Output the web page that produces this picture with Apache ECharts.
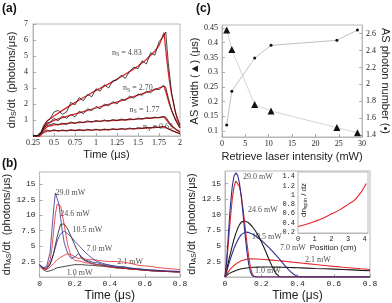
<!DOCTYPE html>
<html><head><meta charset="utf-8">
<script src="https://cdn.jsdelivr.net/npm/echarts@6/dist/echarts.min.js"></script>
<style>html,body{margin:0;padding:0;background:#fff}#c{width:392px;height:303px}</style>
</head><body><div id="c"></div>
<script>
// ---------- Panel (a): Stokes photon flux ----------
var tFit = [0.25,0.33,0.37,0.42,0.5,0.6,0.7,0.8,0.9,1.0,1.1,1.2,1.3,1.4,1.5,1.6,1.7,1.75,1.81,1.84,1.87,1.9,1.94,1.97,2.0];
var fit483 = [0,0,0.45,0.95,1.25,1.6,1.93,2.25,2.55,2.85,3.12,3.4,3.7,4.02,4.37,4.78,5.3,5.65,6.45,4.9,3.6,2.6,1.6,1.0,0.6];
var fit270 = [0,0,0.4,0.75,0.98,1.15,1.3,1.45,1.6,1.75,1.9,2.05,2.2,2.38,2.55,2.72,2.9,3.0,3.12,2.6,2.05,1.6,1.1,0.8,0.5];
var fit177 = [0,0,0.35,0.58,0.7,0.75,0.8,0.84,0.88,0.91,0.94,0.97,1.0,1.03,1.06,1.1,1.14,1.16,1.2,1.0,0.8,0.62,0.45,0.35,0.25];
var fit063 = [0,0,0.2,0.3,0.33,0.34,0.35,0.36,0.37,0.38,0.39,0.41,0.43,0.45,0.47,0.5,0.53,0.55,0.57,0.5,0.42,0.35,0.27,0.2,0.15];
var tMeas = [0.25,0.30,0.35,0.38,0.41,0.45,0.50,0.55,0.60,0.65,0.70,0.75,0.80,0.85,0.90,0.95,1.00,1.05,1.10,1.15,1.20,1.25,1.30,1.35,1.40,1.45,1.50,1.55,1.60,1.65,1.70,1.75,1.80,1.83,1.86,1.90,1.95,2.00];
var meas483 = [0,0.02,0.3,0.7,0.9,1.05,1.5,1.6,1.35,1.5,2.1,1.95,2.4,2.2,2.6,2.45,2.95,2.8,3.2,3.0,3.45,3.5,3.8,3.6,4.05,4.3,4.2,4.7,4.5,5.2,5.05,5.9,6.2,6.5,4.6,2.7,1.4,0.7];
var meas270 = [0,0.02,0.25,0.6,0.8,0.85,1.1,0.95,1.25,1.1,1.35,1.2,1.55,1.4,1.7,1.58,1.85,1.7,2.0,1.88,2.15,2.0,2.3,2.22,2.5,2.35,2.62,2.55,2.8,2.7,2.95,2.9,3.15,3.05,2.4,1.6,0.95,0.5];
var meas177 = [0,0,0.2,0.5,0.65,0.7,0.78,0.68,0.8,0.72,0.88,0.78,0.9,0.83,0.95,0.86,0.97,0.9,1.0,0.92,1.03,0.95,1.06,0.98,1.08,1.02,1.12,1.05,1.15,1.1,1.18,1.13,1.22,1.18,0.95,0.65,0.42,0.25];
var meas063 = [0,0,0.12,0.3,0.38,0.3,0.4,0.3,0.38,0.31,0.4,0.32,0.41,0.33,0.42,0.35,0.43,0.36,0.44,0.37,0.46,0.39,0.47,0.41,0.5,0.43,0.52,0.46,0.55,0.49,0.58,0.52,0.6,0.55,0.45,0.35,0.24,0.15];
var labelsA = ['n_S = 4.83','n_S = 2.70','n_S = 1.77','n_S = 0.63'];
var labelAX = [1.19,1.32,1.40,1.56];
var labelAY = [5.2,3.0,1.63,0.56];

// ---------- Panel (c): AS width and photon number ----------
var power = [1.0,2.1,7.0,10.5,24.6,29.0];
var asWidth = [0.443,0.377,0.19,0.168,0.112,0.094];
var asNumber = [1.52,1.92,2.31,2.46,2.52,2.64];

// ---------- Panel (b): measured anti-Stokes flux ----------
var tB = [0,0.02,0.04,0.06,0.07,0.08,0.09,0.10,0.11,0.12,0.13,0.14,0.16,0.18,0.20,0.22,0.24,0.26,0.28,0.30,0.33,0.36,0.40,0.44,0.48,0.52,0.56,0.60,0.64,0.68,0.72,0.76,0.80];
var b290 = [2.0,1.5,1.7,4.0,7.5,11.0,13.6,13.3,11.8,9.5,7.3,5.6,3.8,3.0,3.2,3.8,3.3,2.7,2.6,2.4,2.3,2.0,1.9,1.6,1.7,1.4,1.35,1.2,1.15,1.05,1.0,0.95,0.9];
var b246 = [2.0,1.3,1.4,2.8,4.5,7.5,10.2,11.8,12.0,11.5,10.0,8.5,5.2,3.3,2.7,2.6,2.5,2.3,2.25,2.1,2.0,1.8,1.65,1.45,1.4,1.25,1.2,1.1,1.0,0.95,0.9,0.85,0.8];
var b105 = [2.0,1.4,1.3,2.0,2.8,3.8,5.2,6.5,7.6,8.5,8.8,8.6,7.8,6.5,5.2,4.0,3.0,2.6,2.4,2.2,2.0,1.9,1.7,1.5,1.45,1.3,1.2,1.1,1.0,0.95,0.9,0.85,0.8];
var b070 = [2.0,1.5,1.4,2.2,3.0,3.8,4.8,5.8,6.5,7.0,7.3,7.4,7.0,6.5,5.8,5.2,4.6,4.0,3.5,3.0,2.5,2.2,1.9,1.75,1.5,1.45,1.3,1.2,1.1,1.05,0.95,0.9,0.9];
var b021 = [2.0,1.3,1.2,1.6,1.9,2.2,2.5,2.8,3.0,3.2,3.4,3.5,3.8,3.6,3.3,3.0,3.1,2.9,2.8,2.8,2.7,2.6,2.5,2.5,2.4,2.2,1.9,1.8,1.7,1.5,1.4,1.3,1.2];
var b010 = [1.8,1.2,0.9,1.0,1.1,1.2,1.35,1.5,1.55,1.6,1.65,1.7,1.8,1.9,2.0,2.0,2.0,1.95,1.9,1.9,1.8,1.75,1.6,1.5,1.4,1.3,1.2,1.1,1.0,0.95,0.9,0.85,0.8];
var labelsB = ['29.0 mW','24.6 mW','10.5 mW','7.0 mW','2.1 mW','1.0 mW'];
var labelBX = [0.091,0.117,0.187,0.267,0.443,0.155];
var labelBY = [13.6,10.2,7.6,4.5,2.4,0.65];

// ---------- Panel (d): theory ----------
var tD = [0,0.01,0.02,0.03,0.04,0.05,0.06,0.07,0.08,0.09,0.10,0.11,0.12,0.13,0.14,0.15,0.16,0.17,0.18,0.20,0.22,0.24,0.26,0.28,0.30,0.32,0.34,0.36,0.38,0.40,0.42,0.45,0.50,0.55,0.60,0.65,0.70,0.75,0.80];
var d290 = [0,3,7.5,11.5,14.5,16.2,16.7,16.3,15.0,12.8,10.0,7.0,4.3,2.2,0.8,0.2,0,0,0,0,0,0,0,0,0,0,0,0,0,0,0,0,0,0,0,0,0,0,0];
var d246 = [0,2.5,6.0,9.5,12.5,14.5,15.4,15.3,14.5,13.0,10.8,8.3,5.7,3.4,1.6,0.5,0.1,0,0,0,0,0,0,0,0,0,0,0,0,0,0,0,0,0,0,0,0,0,0];
var d105 = [0,1.3,2.6,3.8,5.0,6.1,7.0,7.8,8.4,8.8,9.0,9.0,8.9,8.7,8.4,8.1,7.7,7.3,6.8,5.7,4.4,3.0,1.7,0.6,0.05,0,0,0,0,0,0,0,0,0,0,0,0,0,0];
var d070 = [0,1.0,2.0,2.9,3.8,4.6,5.3,5.9,6.4,6.8,7.05,7.2,7.2,7.15,7.05,6.9,6.75,6.55,6.35,5.9,5.35,4.8,4.2,3.55,2.9,2.2,1.5,0.9,0.4,0.1,0,0,0,0,0,0,0,0,0];
var d021 = [0,0.45,0.9,1.3,1.6,1.85,2.1,2.3,2.45,2.6,2.7,2.78,2.84,2.88,2.9,2.9,2.9,2.89,2.88,2.85,2.8,2.75,2.7,2.65,2.6,2.54,2.48,2.42,2.36,2.3,2.24,2.15,2.0,1.85,1.7,1.57,1.45,1.32,1.2];
var d010 = [0,0.25,0.5,0.68,0.82,0.95,1.05,1.15,1.23,1.3,1.36,1.41,1.45,1.49,1.52,1.54,1.56,1.58,1.59,1.6,1.6,1.6,1.6,1.59,1.58,1.56,1.54,1.52,1.5,1.48,1.46,1.43,1.37,1.32,1.26,1.2,1.14,1.07,1.0];
var labelDX = [0.099,0.127,0.149,0.303,0.441,0.166];
var labelDY = [16.0,10.7,6.4,4.65,2.7,0.96];

// ---------- Inset: spin-wave density ----------
var posCm = [0,0.5,1.0,1.5,2.0,2.5,3.0,3.5,4.1];
var dnSpin = [0.32,0.37,0.43,0.50,0.59,0.68,0.80,0.93,1.25];

// ---------- tick labels ----------
var ticksAX = [0.25,0.5,0.75,1,1.25,1.5,1.75,2];
var ticksAY = [1,2,3,4,5,6,7];
var ticksCX = [0,5,10,15,20,25,30];
var ticksCL = [0.1,0.15,0.2,0.25,0.3,0.35,0.4,0.45];
var ticksCR = [1.4,1.6,1.8,2,2.2,2.4,2.6];
var ticksBX = [0,0.2,0.4,0.6,0.8];
var ticksBY = [2.5,5,7.5,10,12.5,15];
var ticksIX = [0,1,2,3,4];
var ticksIY = [0.2,0.4,0.6,0.8,1,1.2,1.4];

var SERIF = 'Liberation Serif', SANS = 'Liberation Sans, DejaVu Sans', MONO = 'Liberation Mono';
var RED = '#e3262c', BLUE = '#2e2f8f', BLK = '#1a1a1a', AXC = '#b8b8b8';

function zip(a,b){ return a.map(function(v,i){ return [v,b[i]]; }); }
function axis(o){
  var ax = {
    type:'value', gridIndex:o.g, min:o.min, max:o.max, position:o.pos,
    axisLine:{show:true, onZero:false, lineStyle:{color:AXC, width:1}},
    axisTick:{show:true, inside:true, length:3, customValues:o.ticks, lineStyle:{color:'#999', width:0.8}},
    splitLine:{show:false},
    axisLabel:{customValues:o.ticks, fontFamily:o.font, fontSize:o.fs||8, color:'#222', margin:o.margin||3, hideOverlap:false},
    name:o.name||'', nameLocation:'middle', nameGap:o.gap||10, nameRotate:o.rot,
    nameTextStyle:{fontFamily:SANS, fontSize:o.nfs||11, color:'#222', rich:o.rich}
  };
  return ax;
}
var richSub = {
  a:{fontFamily:SANS, fontSize:11, color:'#222'},
  s:{fontFamily:SANS, fontSize:7, color:'#222', padding:[5,0,0,0]}
};
var richSubSmall = {
  a:{fontFamily:SANS, fontSize:9, color:'#222'},
  s:{fontFamily:SANS, fontSize:6, color:'#222', padding:[4,0,0,0]}
};
function line(xi, yi, data, color, w){
  return {type:'line', xAxisIndex:xi, yAxisIndex:yi, data:data, symbol:'none', silent:true,
    lineStyle:{color:color, width:w}, animation:false};
}
function annot(xi, yi, xs, ys, texts, rich){
  return {type:'scatter', xAxisIndex:xi, yAxisIndex:yi, symbolSize:0, silent:true, animation:false,
    data: xs.map(function(x,i){ return {value:[x,ys[i]], name:texts[i]}; }),
    label:{show:true, position:'right', distance:0, formatter: rich ? function(p){
        var parts = p.name.split('_S'); return '{n|'+parts[0]+'}{s|S}{n|'+parts[1]+'}'; } : '{b}',
      fontFamily:SERIF, fontSize:8, color:'#222',
      rich: rich ? {n:{fontFamily:SERIF,fontSize:8,color:'#222'}, s:{fontFamily:SERIF,fontSize:6,color:'#222',padding:[4,0,0,0]}} : undefined}
  };
}

var chart = echarts.init(document.getElementById('c'), null, {renderer:'canvas'});
var option = {
  backgroundColor:'#fff',
  animation:false,
  grid:[
    {left:33, top:24, width:147, height:112, show:true, borderColor:AXC, borderWidth:1},
    {left:222, top:25, width:143, height:112, show:true, borderColor:AXC, borderWidth:1},
    {left:30, top:172, width:150, height:105, show:true, borderColor:AXC, borderWidth:1},
    {left:225, top:171, width:145, height:106, show:true, borderColor:AXC, borderWidth:1},
    {left:298, top:172, width:70, height:61, show:true, borderColor:AXC, borderWidth:1, backgroundColor:'#fff', z:5}
  ],
  xAxis:[
    axis({g:0, min:0.25, max:2, ticks:ticksAX, font:SERIF, name:'Time (μs)', gap:13, pos:'bottom'}),
    axis({g:1, min:0, max:30, ticks:ticksCX, font:SERIF, name:'Retrieve laser intensity (mW)', gap:14, pos:'bottom'}),
    axis({g:2, min:0, max:0.8, ticks:ticksBX, font:MONO, name:'Time (μs)', gap:13, nfs:12, pos:'bottom'}),
    axis({g:3, min:0, max:0.8, ticks:ticksBX, font:MONO, name:'Time (μs)', gap:13, nfs:12, pos:'bottom'}),
    axis({g:4, min:0, max:4.2, ticks:ticksIX, font:MONO, fs:7, name:'Position (cm)', gap:9, nfs:8, pos:'bottom'})
  ],
  yAxis:[
    axis({g:0, min:0, max:7, ticks:ticksAY, font:SERIF, margin:5, name:'{a|dn}{s|S}{a|/dt  (photons/μs)}', rich:richSub, gap:15, pos:'left'}),
    axis({g:1, min:0.08, max:0.46, ticks:ticksCL, font:SERIF, margin:4, name:'AS width (▲) (μs)', gap:21, pos:'left'}),
    axis({g:1, min:1.38, max:2.7, ticks:ticksCR, font:SERIF, margin:4, name:'AS photon number (•)', gap:16, rot:-90, pos:'right'}),
    axis({g:2, min:0, max:17, ticks:ticksBY, font:MONO, margin:4, name:'{a|dn}{s|AS}{a|/dt  (photons/μs)}', rich:richSub, gap:22, pos:'left'}),
    axis({g:3, min:0, max:17, ticks:ticksBY, font:MONO, margin:4, name:'{a|dn}{s|AS}{a|/dt  (photons/μs)}', rich:richSub, gap:22, pos:'left'}),
    axis({g:4, min:0.18, max:1.5, ticks:ticksIY, font:MONO, fs:7, margin:3, pos:'left'})
  ],
  series:[
    line(0,0,zip(tFit,fit483),RED,1.3), line(0,0,zip(tFit,fit270),RED,1.3),
    line(0,0,zip(tFit,fit177),RED,1.3), line(0,0,zip(tFit,fit063),RED,1.3),
    line(0,0,zip(tMeas,meas483),BLK,0.8), line(0,0,zip(tMeas,meas270),BLK,0.8),
    line(0,0,zip(tMeas,meas177),BLK,0.8), line(0,0,zip(tMeas,meas063),BLK,0.8),
    annot(0,0,labelAX,labelAY,labelsA,true),
    {type:'line', xAxisIndex:1, yAxisIndex:1, data:zip(power,asWidth), symbol:'triangle', symbolSize:7,
      lineStyle:{color:'#c8c8c8', width:0.8}, itemStyle:{color:'#111'}, animation:false},
    {type:'line', xAxisIndex:1, yAxisIndex:2, data:zip(power,asNumber), symbol:'circle', symbolSize:3,
      lineStyle:{color:'#b0b0b0', width:0.8}, itemStyle:{color:'#111'}, animation:false},
    line(2,3,zip(tB,b010),BLK,0.8), line(2,3,zip(tB,b021),RED,0.8), line(2,3,zip(tB,b070),BLUE,0.8),
    line(2,3,zip(tB,b105),BLK,0.8), line(2,3,zip(tB,b246),RED,0.8), line(2,3,zip(tB,b290),BLUE,0.8),
    annot(2,3,labelBX,labelBY,labelsB,false),
    line(3,4,zip(tD,d010),BLK,1.1), line(3,4,zip(tD,d021),RED,1.1), line(3,4,zip(tD,d070),BLUE,1.1),
    line(3,4,zip(tD,d105),BLK,1.1), line(3,4,zip(tD,d246),RED,1.1), line(3,4,zip(tD,d290),BLUE,1.1),
    annot(3,4,labelDX,labelDY,labelsB,false),
    {type:'line', xAxisIndex:4, yAxisIndex:5, data:zip(posCm,dnSpin), symbol:'none', smooth:true, z:6,
      lineStyle:{color:RED, width:1.1}, animation:false}
  ],
  graphic:[
    {type:'text', left:2, top:3, style:{text:'(a)', font:'bold 12px Liberation Sans', fill:'#111'}},
    {type:'text', left:196, top:3, style:{text:'(c)', font:'bold 12px Liberation Sans', fill:'#111'}},
    {type:'text', left:2, top:158, style:{text:'(b)', font:'bold 12px Liberation Sans', fill:'#111'}},
    {type:'text', x:304, y:200, rotation:Math.PI/2, z:10,
      style:{text:'{a|dn}{s|spin}{a| / dz}', align:'center', verticalAlign:'middle',
        rich:{a:{fontFamily:SANS,fontSize:8,fill:'#222'}, s:{fontFamily:SANS,fontSize:5.5,fill:'#222',padding:[3,0,0,0]}}}}
  ]
};
chart.setOption(option);
</script></body></html>
